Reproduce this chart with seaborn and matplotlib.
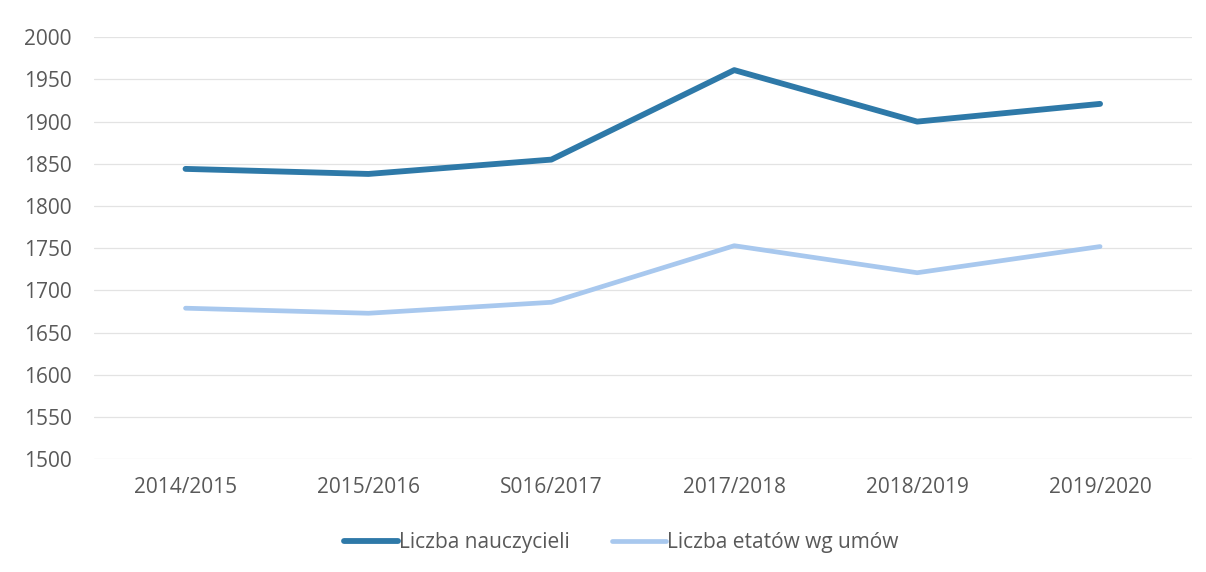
import pandas as pd
import seaborn as sns
import matplotlib.pyplot as plt

# data
years = ['2014/2015', '2015/2016', 'S016/2017', '2017/2018', '2018/2019', '2019/2020']
nauczyciele = [1844, 1838, 1855, 1961, 1900, 1921]
etaty = [1679, 1673, 1686, 1753, 1721, 1752]
series_names = ['Liczba nauczycieli', 'Liczba etatów wg umów']
colors = ['#2E79A8', '#A8C8EE']

df = pd.DataFrame({
    'rok': years * 2,
    'wartosc': nauczyciele + etaty,
    'seria': [series_names[0]] * len(years) + [series_names[1]] * len(years),
})

sns.set_style('white')
plt.rcParams['font.family'] = ['Open Sans', 'DejaVu Sans']

fig = plt.figure(figsize=(12.06, 5.72), dpi=100)
# axes box in figure fractions (left 94px, right 1191px, top 37px, bottom 459px)
ax = fig.add_axes([0.078, 0.197, 0.910, 0.738])

sns.lineplot(data=df, x='rok', y='wartosc', hue='seria', palette=colors,
             sort=False, ax=ax, legend=False)
ax.lines[0].set_linewidth(4.2)
ax.lines[1].set_linewidth(3.4)
for ln in ax.lines:
    ln.set_solid_capstyle('round')

ax.set_xlim(-0.5, len(years) - 0.5)
ax.set_ylim(1500, 2000)
ax.set_yticks(range(1500, 2001, 50))
ax.yaxis.grid(True, color='#E3E3E3', linewidth=0.9)
ax.set_axisbelow(True)
ax.set_xlabel('')
ax.set_ylabel('')
for s in ax.spines.values():
    s.set_visible(False)
ax.tick_params(axis='both', length=0, labelsize=15, colors='#595959')
ax.tick_params(axis='x', pad=13)
ax.tick_params(axis='y', pad=16)

handles = [plt.Line2D([], [], color=c, linewidth=w) for c, w in zip(colors, [4.2, 3.4])]
fig.legend(handles, series_names, loc='center', bbox_to_anchor=(0.515, 0.051),
           ncol=2, frameon=False, fontsize=15, labelcolor='#595959',
           handlelength=2.6, handletextpad=0.05, columnspacing=2.0)

fig.savefig('out.png', dpi=100)
